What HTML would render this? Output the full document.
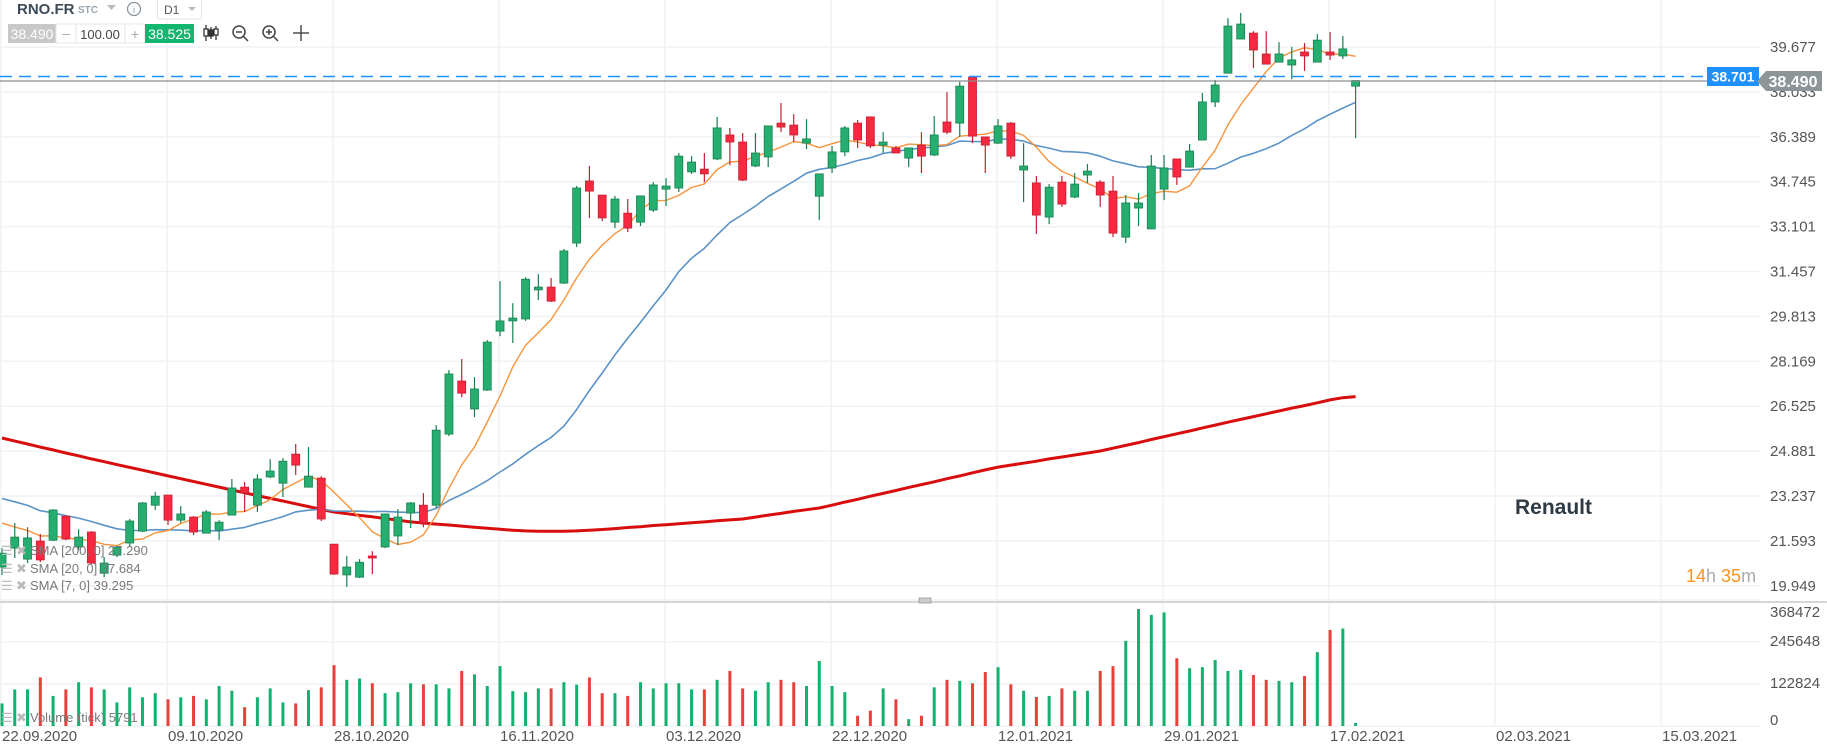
<!DOCTYPE html>
<html><head><meta charset="utf-8"><style>
body{margin:0;background:#fff;width:1827px;height:748px;overflow:hidden;font-family:"Liberation Sans",sans-serif}
#c{position:absolute;left:0;top:0}
</style></head><body>
<svg id="c" width="1827" height="748" xmlns="http://www.w3.org/2000/svg">
<g id="grid"></g>
<g id="vol"></g>
<g id="lines"></g>
<g id="candles"></g>
<g id="axes"></g>
<line x1="0" y1="602" x2="1827" y2="602" stroke="#d6d6d6" stroke-width="2"/>
<rect x="919" y="598" width="12" height="5" fill="#ccc" stroke="#999" stroke-width="0.8"/>
<line x1="0" y1="76.5" x2="1707" y2="76.5" stroke="#1e90ff" stroke-width="1.5" stroke-dasharray="12,7"/>
<line x1="0" y1="81" x2="1757" y2="81" stroke="#8a8f93" stroke-width="1.2"/>
<rect x="1707" y="67" width="52" height="19" fill="#1e90ff"/>
<text x="1733" y="81.5" text-anchor="middle" font-size="14" font-weight="bold" fill="#fff">38.701</text>
<path d="M1757 81 L1766 71 L1822 71 L1822 91 L1766 91 Z" fill="#8d9598"/>
<text x="1793" y="87" text-anchor="middle" font-size="16" font-weight="bold" fill="#fff">38.490</text>
<text x="1515" y="514" font-size="21" font-weight="bold" fill="#2f3a44">Renault</text>
<text x="1686" y="582" font-size="18"><tspan fill="#f7931e">14</tspan><tspan fill="#aaa">h </tspan><tspan fill="#f7931e">35</tspan><tspan fill="#aaa">m</tspan></text>
<g font-size="13" fill="#7a7a7a">
<g><text x="1" y="555" fill="#bbb" font-size="13">☰</text><text x="16" y="555" fill="#bbb">✖</text><text x="30" y="555">SMA [200, 0] 27.290</text></g>
<g><text x="1" y="573" fill="#bbb" font-size="13">☰</text><text x="16" y="573" fill="#bbb">✖</text><text x="30" y="573">SMA [20, 0] 37.684</text></g>
<g><text x="1" y="590" fill="#bbb" font-size="13">☰</text><text x="16" y="590" fill="#bbb">✖</text><text x="30" y="590">SMA [7, 0] 39.295</text></g>
<g><text x="1" y="722" fill="#bbb" font-size="13">☰</text><text x="16" y="722" fill="#bbb">✖</text><text x="30" y="722">Volume (tick) 5791</text></g>
</g>
<g>
<text x="17" y="14" font-size="15" font-weight="bold" fill="#3d4b58">RNO.FR</text>
<text x="78" y="13" font-size="10" font-weight="bold" fill="#9aa5ae">STC</text>
<path d="M107 5 L116 5 L111.5 10 Z" fill="#b5bcc2"/>
<circle cx="134" cy="9" r="6.5" fill="none" stroke="#8a939a" stroke-width="1.3"/>
<text x="134" y="13" text-anchor="middle" font-size="9" fill="#8a939a">i</text>
<rect x="157.5" y="-2" width="44" height="21" rx="2" fill="#fff" stroke="#e2e2e2"/>
<text x="164" y="14" font-size="12" fill="#555">D1</text>
<path d="M188 7 L196 7 L192 11 Z" fill="#b5bcc2"/>
<rect x="8" y="24" width="48" height="19" fill="#c8c8c8"/>
<text x="32" y="39" text-anchor="middle" font-size="14" fill="#fff">38.490</text>
<rect x="56" y="24" width="20" height="19" fill="#fff" stroke="#e6e6e6"/>
<text x="66" y="38" text-anchor="middle" font-size="14" fill="#aaa">–</text>
<rect x="76" y="24" width="49" height="19" fill="#fff" stroke="#e6e6e6"/>
<text x="100" y="39" text-anchor="middle" font-size="13" fill="#444">100.00</text>
<rect x="125" y="24" width="20" height="19" fill="#fff" stroke="#e6e6e6"/>
<text x="135" y="39" text-anchor="middle" font-size="14" fill="#aaa">+</text>
<rect x="145" y="24" width="49" height="19" fill="#14b56f"/>
<text x="169.5" y="39" text-anchor="middle" font-size="14" fill="#fff">38.525</text>
<g stroke="#333" stroke-width="1.3"><line x1="206" y1="25" x2="206" y2="41"/><rect x="204" y="29" width="4" height="7" fill="#fff"/><line x1="211" y1="27" x2="211" y2="39"/><rect x="209" y="30" width="4" height="6" fill="#333"/><line x1="216" y1="26" x2="216" y2="40"/><rect x="214" y="29" width="4" height="6" fill="#fff"/></g>
<g stroke="#444" stroke-width="1.5" fill="none"><circle cx="239" cy="32" r="6"/><line x1="243" y1="36" x2="248" y2="41"/><line x1="236" y1="32" x2="242" y2="32"/></g>
<g stroke="#444" stroke-width="1.5" fill="none"><circle cx="269" cy="32" r="6"/><line x1="273" y1="36" x2="278" y2="41"/><line x1="266" y1="32" x2="272" y2="32"/><line x1="269" y1="29" x2="269" y2="35"/></g>
<g stroke="#444" stroke-width="1.4" fill="none"><line x1="293" y1="33" x2="309" y2="33"/><line x1="301" y1="25" x2="301" y2="41"/></g>
</g>
</svg>
<script>
const NS='http://www.w3.org/2000/svg';
const opens=[21.25,21.92,21.53,22.17,22.20,23.05,21.96,22.49,21.03,21.67,22.10,22.52,23.44,23.80,22.91,23.02,22.45,22.56,23.09,24.08,23.44,24.44,24.22,25.25,24.08,24.40,22.06,20.97,20.89,21.64,21.96,22.35,23.16,23.44,23.44,25.96,27.84,26.85,27.52,29.61,29.97,30.04,31.07,31.17,31.31,32.73,34.93,34.43,33.47,33.79,33.47,33.90,34.64,34.68,35.25,35.35,35.71,36.56,36.31,35.46,35.78,36.98,36.91,36.27,34.39,35.39,35.96,36.98,37.20,36.20,36.10,35.74,36.20,35.85,37.02,36.98,38.61,36.49,36.27,36.98,35.32,34.86,33.65,34.89,34.36,35.14,34.89,34.57,32.94,33.97,33.23,34.64,35.71,35.42,36.38,37.73,38.75,39.96,40.17,39.43,39.14,39.04,39.50,39.14,39.50,39.36,38.29];
const highs=[21.92,22.81,22.66,22.42,23.30,23.09,22.59,22.52,21.60,21.96,22.95,23.55,23.91,23.80,23.41,23.05,23.27,22.91,24.37,24.26,24.54,25.07,25.11,25.61,25.50,24.47,22.06,21.64,21.53,21.81,23.13,23.30,23.55,23.87,26.28,28.23,28.62,27.98,29.29,31.38,30.60,31.52,31.63,31.49,32.52,34.75,35.46,34.43,34.40,34.29,34.40,34.89,35.03,35.92,35.81,35.92,37.20,36.81,36.63,36.63,36.88,37.69,37.30,37.12,35.18,36.17,36.88,37.09,37.20,36.66,36.17,36.10,36.66,37.23,38.08,38.44,38.61,36.49,37.12,37.02,36.27,35.11,34.82,35.11,35.21,35.53,34.96,35.11,34.43,34.50,35.85,35.85,35.71,36.24,38.05,38.51,40.70,40.88,40.24,40.24,39.85,39.68,39.82,40.14,40.21,40.07,38.51];
const lows=[20.97,21.57,21.39,21.42,22.17,22.20,21.85,21.35,20.89,21.60,21.99,22.49,23.27,22.74,22.81,22.38,22.45,22.20,23.09,23.20,23.20,24.40,23.73,24.51,24.08,22.88,20.97,20.54,20.86,21.00,21.92,22.03,22.63,22.66,23.34,25.89,27.27,26.56,27.49,29.43,29.19,29.97,30.71,30.64,31.28,32.59,33.62,33.51,33.26,33.12,33.33,33.83,34.04,34.54,35.18,34.89,35.67,35.49,34.93,35.42,35.42,36.66,36.31,36.06,33.55,35.21,35.81,36.10,36.10,35.92,35.92,35.42,35.21,35.81,36.59,36.49,36.27,35.21,36.24,35.71,34.18,33.05,33.40,34.01,34.32,34.86,34.01,32.94,32.73,33.33,33.23,34.25,34.79,35.42,36.38,37.55,38.75,39.96,38.93,39.07,39.14,38.54,38.83,39.14,39.22,39.25,36.45];
const closes=[21.74,22.31,22.28,21.50,23.27,22.24,22.31,21.39,21.39,21.96,22.88,23.52,23.76,22.91,23.13,22.49,23.20,22.84,24.05,23.87,24.37,24.65,25.00,24.86,24.47,22.95,21.00,21.25,21.42,21.57,23.13,23.02,23.52,22.81,26.10,28.09,27.41,27.56,29.22,29.97,30.07,31.45,31.17,30.67,32.45,34.68,34.57,33.62,34.29,33.26,34.40,34.79,34.75,35.81,35.60,35.18,36.81,36.31,34.96,35.92,36.88,36.84,36.56,36.42,35.18,35.96,36.81,36.38,36.17,36.31,35.92,36.10,35.81,36.56,36.66,38.29,36.52,36.20,36.88,35.81,35.46,33.72,34.71,34.11,34.82,35.28,34.43,33.08,34.15,34.15,35.46,35.39,35.07,35.99,37.73,38.33,40.42,40.49,39.57,39.07,39.43,39.22,39.36,39.92,39.39,39.61,38.49];
const volumesK=[66,107,107,142,88,107,128,113,107,69,113,84,96,78,84,88,78,117,103,55,84,110,69,66,105,113,178,135,139,125,96,99,125,122,122,110,161,151,117,175,102,99,110,110,128,121,142,96,96,88,128,110,125,125,107,107,135,161,110,103,128,135,128,117,190,117,99,30,45,110,78,20,30,113,135,132,125,158,172,122,103,85,88,110,103,103,161,175,249,342,325,332,198,169,172,193,161,164,149,135,132,128,146,216,281,285,9];
const sma200=[25.82,25.71,25.61,25.50,25.40,25.29,25.19,25.08,24.98,24.88,24.78,24.68,24.58,24.48,24.38,24.28,24.18,24.08,23.98,23.88,23.78,23.68,23.59,23.49,23.39,23.29,23.20,23.14,23.08,23.03,22.97,22.91,22.85,22.81,22.77,22.74,22.70,22.66,22.62,22.59,22.55,22.53,22.52,22.52,22.52,22.53,22.55,22.58,22.61,22.65,22.68,22.72,22.75,22.78,22.82,22.85,22.89,22.92,22.95,23.02,23.09,23.15,23.22,23.28,23.34,23.44,23.55,23.65,23.76,23.86,23.96,24.07,24.17,24.27,24.38,24.48,24.59,24.69,24.79,24.86,24.93,25.00,25.08,25.15,25.22,25.29,25.36,25.46,25.56,25.66,25.77,25.87,25.97,26.07,26.18,26.28,26.38,26.48,26.58,26.68,26.78,26.88,26.97,27.07,27.17,27.25,27.29];
const priorCloses=[24.6,24.9,25.2,24.8,24.3,24.0,23.8,24.1,24.4,24.0,23.6,23.2,23.0,23.3,23.1,22.9,23.2,22.8,22.6];
const priceTicks=[39.677,38.033,36.389,34.745,33.101,31.457,29.813,28.169,26.525,24.881,23.237,21.593,19.949];
const volumeTicks=[0,122824,245648,368472];
const dateLabels=['22.09.2020','09.10.2020','28.10.2020','16.11.2020','03.12.2020','22.12.2020','12.01.2021','29.01.2021','17.02.2021','02.03.2021','15.03.2021'];

const X=i=>2+12.77*i;
const Y=p=>47+(39.677-p)*28.22;
const GY=p=>47+(39.677-p)*27.31;
const VY=v=>726-v/122824*42;
const dateX=k=>1+166*k;
function mk(tag,attrs,parent){const e=document.createElementNS(NS,tag);for(const k in attrs)e.setAttribute(k,attrs[k]);parent.appendChild(e);return e;}
const grid=document.getElementById('grid'),axes=document.getElementById('axes');
priceTicks.forEach(p=>{
  const l=mk('line',{x1:0,x2:1760,y1:GY(p),y2:GY(p),stroke:'#f1f2f4','stroke-width':1.5},grid);
  
  
  const t=mk('text',{x:1770,y:GY(p)+5,'font-size':15,fill:'#555'},axes);
  t.textContent=p.toFixed(3);
  
  
});
volumeTicks.forEach(v=>{
  const l=mk('line',{x1:0,x2:1760,y1:VY(v),y2:VY(v),stroke:'#f1f2f4','stroke-width':1.5},grid);
  
  
  const t=mk('text',{x:1770,y:v===0?725:(v===368472?617:VY(v)+4),'font-size':15,fill:'#555'},axes);
  t.textContent=String(v);
  
  
});
dateLabels.forEach((d,k)=>{
  const l=mk('line',{x1:dateX(k),x2:dateX(k),y1:0,y2:727,stroke:'#f1f2f4','stroke-width':1.5},grid);
  
  
  const t=mk('text',{x:dateX(k)+1,y:741,'font-size':15,fill:'#555'},axes);
  t.textContent=d;
  
  
});
const vol=document.getElementById('vol');
volumesK.forEach((v,i)=>{
  const up=closes[i]>=opens[i];
  const r=mk('rect',{x:X(i)-1.5,y:VY(v*1000),width:3,height:726-VY(v*1000),fill:up?'#12b26e':'#e8403b'},vol);
  
  
});
const all=priorCloses.concat(closes);
function sma(n){return closes.map((c,i)=>{const j=i+priorCloses.length;const w=all.slice(Math.max(0,j-n+1),j+1);return w.reduce((a,b)=>a+b,0)/w.length;});}
const lines=document.getElementById('lines');
function poly(vals,color,w,name){
  const d=vals.map((v,i)=>(i?'L':'M')+X(i).toFixed(1)+' '+Y(v).toFixed(1)).join(' ');
  const p=mk('path',{d:d,fill:'none',stroke:color,'stroke-width':w,'stroke-linejoin':'round'},lines);
  
  
}
poly(sma200,'#d80d0d',3,'sma200-line');
poly(sma(20),'#5b93c7',1.6,'sma20-line');
poly(sma(7),'#f7943c',1.4,'sma7-line');
const cg=document.getElementById('candles');
closes.forEach((c,i)=>{
  const o=opens[i],up=c>=o;
  const fill=up?'#25ae6f':'#f7283f',st=up?'#178050':'#c41f33';
  const g=mk('g',{},cg);
  
  
  mk('line',{x1:X(i),x2:X(i),y1:Y(highs[i]),y2:Y(lows[i]),stroke:st,'stroke-width':1.2},g);
  const top=Y(Math.max(o,c)),bot=Y(Math.min(o,c));
  mk('rect',{x:X(i)-4,y:top,width:8,height:Math.max(1.5,bot-top),fill:fill,stroke:st,'stroke-width':0.8},g);
});
</script>
</body></html>
